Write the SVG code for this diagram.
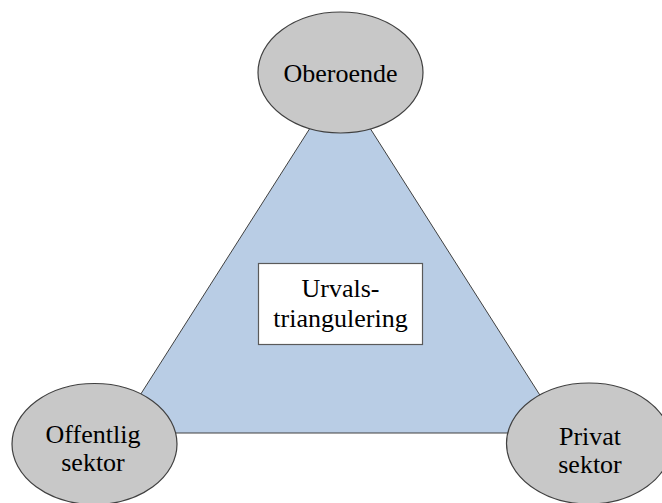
<svg xmlns="http://www.w3.org/2000/svg" width="662" height="503" viewBox="0 0 662 503">
<style>
.node ellipse{fill:#c8c8c8;stroke:#404040;stroke-width:1.2}
.tri{fill:#b9cde5;stroke:#404040;stroke-width:1}
.box{fill:#ffffff;stroke:#5a5a5a;stroke-width:1.2}
.t{font-family:'Liberation Serif','Times New Roman','DejaVu Serif',serif;font-size:26px;fill:#000;text-anchor:middle}
</style>
<rect width="662" height="503" fill="#ffffff"/>
<g id="connectors">
<polygon class="tri" points="340,81 116,433 564,433"/>
</g>
<g id="center">
<rect class="box" x="258.5" y="263.5" width="164" height="81"/>
<text class="t" x="340.5" y="297" font-family="Liberation Serif, serif">Urvals-</text>
<text class="t" x="340.5" y="327" font-family="Liberation Serif, serif">triangulering</text>
</g>
<g id="oberoende" class="node">
<ellipse cx="340.5" cy="72.5" rx="82.5" ry="60.5"/>
<text class="t" x="340.5" y="82" font-family="Liberation Serif, serif">Oberoende</text>
</g>
<g id="offentlig" class="node">
<ellipse cx="94.5" cy="444" rx="82.5" ry="60.5"/>
<text class="t" x="93" y="443" font-family="Liberation Serif, serif">Offentlig</text>
<text class="t" x="93" y="471" font-family="Liberation Serif, serif">sektor</text>
</g>
<g id="privat" class="node">
<ellipse cx="589" cy="443.5" rx="82.5" ry="60.5"/>
<text class="t" x="590" y="445" font-family="Liberation Serif, serif">Privat</text>
<text class="t" x="590" y="473" font-family="Liberation Serif, serif">sektor</text>
</g>
</svg>
